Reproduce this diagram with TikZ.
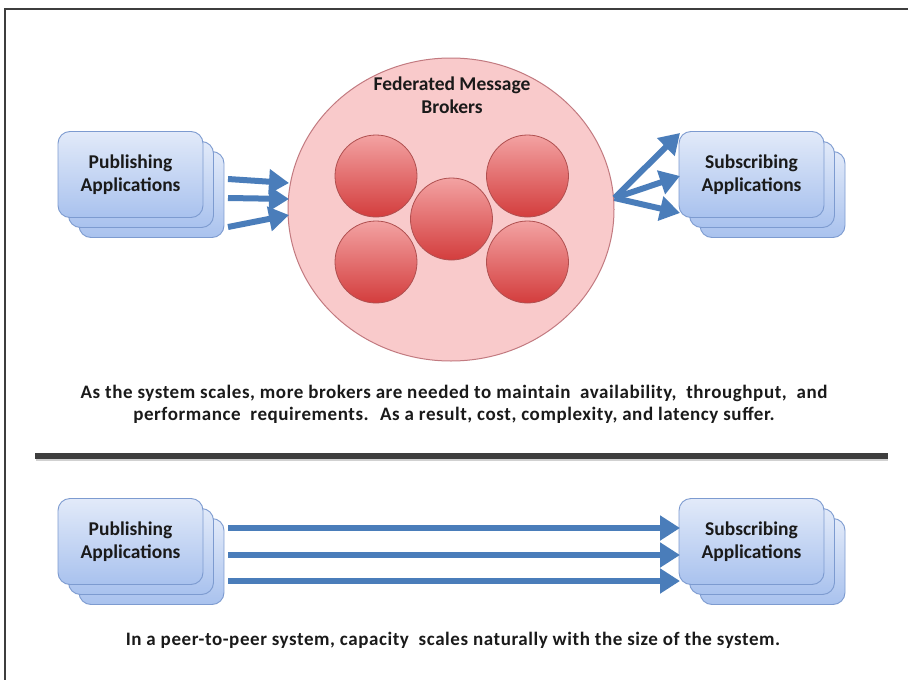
\documentclass[tikz,border=0pt]{standalone}
\usepackage{fontspec}
\setmainfont{Carlito}
\usetikzlibrary{arrows.meta,shapes.geometric}
\definecolor{boxtop}{HTML}{E2EAF9}
\definecolor{boxbot}{HTML}{A9C2EE}
\definecolor{boxedge}{HTML}{7D9BD0}
\definecolor{arrowblue}{HTML}{4A7DBA}
\definecolor{fedfill}{HTML}{F9CACB}
\definecolor{fededge}{HTML}{C27A80}
\definecolor{btop}{HTML}{F3A2A2}
\definecolor{bbot}{HTML}{D33D3D}
\definecolor{bedge}{HTML}{B05050}
\definecolor{txt}{HTML}{1A1A1A}
\definecolor{divider}{HTML}{3E3E3E}
\begin{document}
\begin{tikzpicture}[x=1pt,y=-1pt,
  appbox/.style={rounded corners=12pt, draw=boxedge, line width=0.9pt,
    top color=boxtop, bottom color=boxbot, minimum width=145pt,
    minimum height=86pt, inner sep=0pt},
  apptext/.style={font=\bfseries\fontsize{19.5}{23}\selectfont, text=txt, align=center},
  broker/.style={circle, draw=bedge, line width=0.8pt, top color=btop,
    bottom color=bbot, minimum size=82pt, inner sep=0pt},
  arr/.style={draw=arrowblue, line width=6pt,
    -{Triangle[length=20pt,width=24pt,fill=arrowblue]}},
  caption/.style={font=\bfseries\fontsize{19}{22}\selectfont\addfontfeature{LetterSpace=3}, text=txt, align=center}
]
\useasboundingbox (0,0) rectangle (908,680);
\fill[white] (0,0) rectangle (908,680);
% frame
\draw[line width=2pt, color=divider] (908,9) -- (5,9) -- (5,680);

% ---------- top section ----------
\node[ellipse, draw=fededge, fill=fedfill, line width=1pt,
      minimum width=326pt, minimum height=303pt, inner sep=0pt] (fed) at (451,209.5) {};
\node[apptext] (fedlabel) at (452,95) {Federated Message\\Brokers};
\node[broker] (b1) at (376,176) {};
\node[broker] (b2) at (527.5,176) {};
\node[broker] (b3) at (451.5,219) {};
\node[broker] (b4) at (376,262) {};
\node[broker] (b5) at (527.5,262) {};

% publishing stack (top)
\node[appbox] (pubT3) at (151.5,194.5) {};
\node[appbox] (pubT2) at (141,184.5) {};
\node[appbox, apptext] (pubT) at (130.5,174.5) {Publishing\\Applications};
% subscribing stack (top)
\node[appbox] (subT3) at (772.5,194.5) {};
\node[appbox] (subT2) at (762,184.5) {};
\node[appbox, apptext] (subT) at (751.5,174.5) {Subscribing\\Applications};

% arrows into the brokers
\coordinate (pa1) at (228,179);
\coordinate (pa2) at (228,198);
\coordinate (pa3) at (228,227);
\coordinate (fa1) at (289,183);
\coordinate (fa2) at (289,199);
\coordinate (fa3) at (289,215);
\draw[arr] (pa1) -- (fa1);
\draw[arr] (pa2) -- (fa2);
\draw[arr] (pa3) -- (fa3);
% arrows out of the brokers
\coordinate (fo) at (fed.east |- 0,198);
\coordinate (sa1) at (680,133);
\coordinate (sa2) at (680,176);
\coordinate (sa3) at (680,213);
\draw[arr] (fo) -- (sa1);
\draw[arr] (fo) -- (sa2);
\draw[arr] (fo) -- (sa3);

\node[caption] (cap1) at (454,404) {As the system scales, more brokers are needed to maintain \ availability, \ throughput, \ and\\performance \ requirements. \ As a result, cost, complexity, and latency suffer.};

% divider
\draw[line width=3pt, color=black!18] (36,459.5) -- (888,459.5);
\draw[line width=6pt, color=divider] (35,456) -- (888,456);

% ---------- bottom section ----------
\node[appbox] (pubB3) at (151.5,561.5) {};
\node[appbox] (pubB2) at (141,551.5) {};
\node[appbox, apptext] (pubB) at (130.5,541.5) {Publishing\\Applications};
\node[appbox] (subB3) at (772.5,561.5) {};
\node[appbox] (subB2) at (762,551.5) {};
\node[appbox, apptext] (subB) at (751.5,541.5) {Subscribing\\Applications};

\coordinate (pb1) at (228,528);
\coordinate (pb2) at (228,555);
\coordinate (pb3) at (228,581);
\coordinate (sb1) at (680,528);
\coordinate (sb2) at (680,555);
\coordinate (sb3) at (680,581);
\draw[arr] (pb1) -- (sb1);
\draw[arr] (pb2) -- (sb2);
\draw[arr] (pb3) -- (sb3);

\node[caption] (cap2) at (453,640) {In a peer-to-peer system, capacity \ scales naturally with the size of the system.};
\end{tikzpicture}
\end{document}
